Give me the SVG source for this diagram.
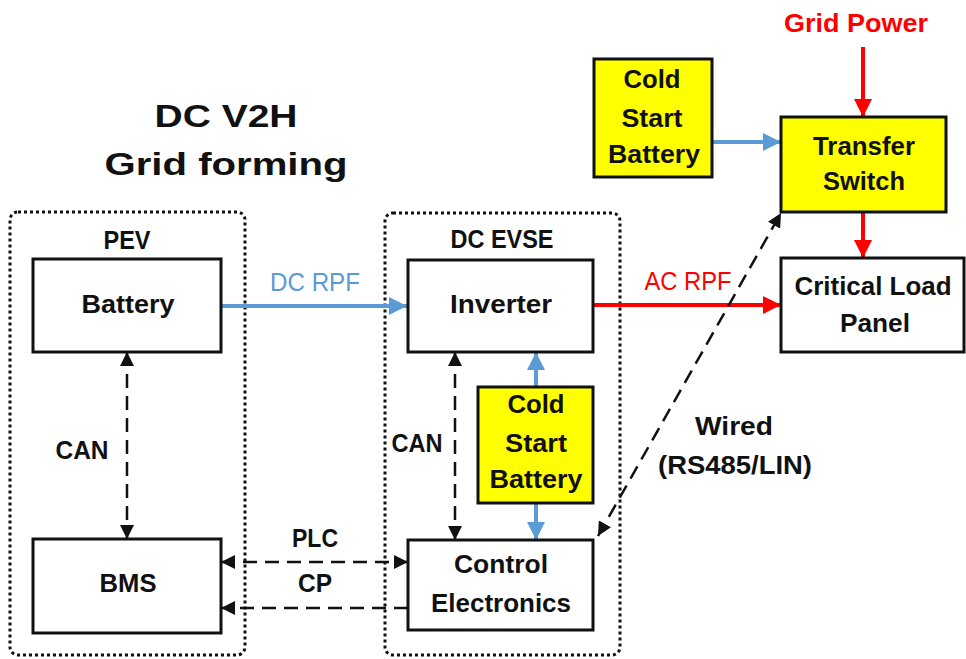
<svg xmlns="http://www.w3.org/2000/svg" width="966" height="659" viewBox="0 0 966 659">
<style>
text{font-family:"Liberation Sans",Arial,sans-serif;font-weight:bold;fill:#111;text-anchor:middle}
.lbl{font-size:25px}
.ttl{font-size:31px}
.box{fill:#fff;stroke:#111;stroke-width:3}
.ybox{fill:#ffff00;stroke:#111;stroke-width:3}
.grp{fill:none;stroke:#111;stroke-width:3;stroke-dasharray:3 3}
.blue{stroke:#5b9bd5;stroke-width:4;fill:none}
.red{stroke:#ff0000;stroke-width:4;fill:none}
.dash{stroke:#111;stroke-width:2.5;stroke-dasharray:14 8;fill:none}
.tb{fill:#5b9bd5;font-weight:normal}
.tr{fill:#ff0000;font-weight:normal}
</style>
<defs>
<marker id="ab" markerUnits="userSpaceOnUse" markerWidth="14" markerHeight="14" refX="14" refY="7" orient="auto-start-reverse"><path d="M0,0 L14,7 L0,14 z" fill="#111" stroke="none"/></marker>
<marker id="abl" markerUnits="userSpaceOnUse" markerWidth="18" markerHeight="18" refX="18" refY="9" orient="auto-start-reverse"><path d="M0,0 L18,9 L0,18 z" fill="#5b9bd5" stroke="none"/></marker>
<marker id="ar" markerUnits="userSpaceOnUse" markerWidth="18" markerHeight="18" refX="18" refY="9" orient="auto-start-reverse"><path d="M0,0 L18,9 L0,18 z" fill="#ff0000" stroke="none"/></marker>
</defs>
<rect width="966" height="659" fill="#fff"/>
<g id="title">
<text class="ttl" x="226" y="127" textLength="143" lengthAdjust="spacingAndGlyphs">DC V2H</text>
<text class="ttl" x="226" y="175" textLength="243" lengthAdjust="spacingAndGlyphs">Grid forming</text>
</g>
<g id="pev-group">
<rect class="grp" x="10" y="212" width="235" height="443" rx="8"/>
<text class="lbl" x="127" y="249" textLength="47" lengthAdjust="spacingAndGlyphs">PEV</text>
</g>
<g id="evse-group">
<rect class="grp" x="385" y="213" width="235" height="442" rx="8"/>
<text class="lbl" x="502" y="248" textLength="103" lengthAdjust="spacingAndGlyphs">DC EVSE</text>
</g>
<g id="connectors">
<line class="blue" x1="221" y1="306" x2="407" y2="306" marker-end="url(#abl)"/>
<line class="red" x1="593" y1="305" x2="781" y2="305" marker-end="url(#ar)"/>
<line class="red" x1="863" y1="47" x2="863" y2="117" marker-end="url(#ar)"/>
<line class="red" x1="863" y1="212" x2="863" y2="258" marker-end="url(#ar)"/>
<line class="blue" x1="712" y1="142" x2="781" y2="142" marker-end="url(#abl)"/>
<line class="blue" x1="536" y1="387" x2="536" y2="352" marker-end="url(#abl)"/>
<line class="blue" x1="536" y1="503" x2="536" y2="540" marker-end="url(#abl)"/>
<line class="dash" x1="127" y1="352" x2="127" y2="539" marker-start="url(#ab)" marker-end="url(#ab)"/>
<line class="dash" x1="455" y1="352" x2="455" y2="540" marker-start="url(#ab)" marker-end="url(#ab)"/>
<line class="dash" x1="221" y1="562" x2="408" y2="562" marker-start="url(#ab)" marker-end="url(#ab)"/>
<line class="dash" x1="408" y1="608" x2="221" y2="608" marker-end="url(#ab)"/>
<line class="dash" x1="598" y1="536" x2="781" y2="213" marker-start="url(#ab)" marker-end="url(#ab)"/>
<text class="lbl tb" x="315" y="291" textLength="90" lengthAdjust="spacingAndGlyphs">DC RPF</text>
<text class="lbl tr" x="688" y="290" textLength="87" lengthAdjust="spacingAndGlyphs">AC RPF</text>
<text class="lbl" x="82" y="459" textLength="53" lengthAdjust="spacingAndGlyphs">CAN</text>
<text class="lbl" x="417" y="452" textLength="51" lengthAdjust="spacingAndGlyphs">CAN</text>
<text class="lbl" x="315" y="547" textLength="46" lengthAdjust="spacingAndGlyphs">PLC</text>
<text class="lbl" x="315" y="592" textLength="34" lengthAdjust="spacingAndGlyphs">CP</text>
<text class="lbl" x="734" y="435" textLength="78" lengthAdjust="spacingAndGlyphs">Wired</text>
<text class="lbl" x="735" y="474" textLength="154" lengthAdjust="spacingAndGlyphs">(RS485/LIN)</text>
<text class="lbl" x="856" y="32" textLength="144" lengthAdjust="spacingAndGlyphs" style="fill:#ff0000">Grid Power</text>
</g>
<g id="battery">
<rect class="box" x="33" y="259" width="188" height="93"/>
<text class="lbl" x="128" y="313" textLength="93" lengthAdjust="spacingAndGlyphs">Battery</text>
</g>
<g id="bms">
<rect class="box" x="33" y="539" width="188" height="94"/>
<text class="lbl" x="128" y="592" textLength="57" lengthAdjust="spacingAndGlyphs">BMS</text>
</g>
<g id="inverter">
<rect class="box" x="408" y="260" width="185" height="92"/>
<text class="lbl" x="501" y="313" textLength="102" lengthAdjust="spacingAndGlyphs">Inverter</text>
</g>
<g id="cold-start-battery-evse">
<rect class="ybox" x="478" y="387" width="115" height="116"/>
<text class="lbl" x="536" y="413" textLength="57" lengthAdjust="spacingAndGlyphs">Cold</text>
<text class="lbl" x="536" y="452" textLength="62" lengthAdjust="spacingAndGlyphs">Start</text>
<text class="lbl" x="536" y="488" textLength="93" lengthAdjust="spacingAndGlyphs">Battery</text>
</g>
<g id="control-electronics">
<rect class="box" x="408" y="540" width="185" height="90"/>
<text class="lbl" x="501" y="573" textLength="94" lengthAdjust="spacingAndGlyphs">Control</text>
<text class="lbl" x="501" y="612" textLength="140" lengthAdjust="spacingAndGlyphs">Electronics</text>
</g>
<g id="cold-start-battery-grid">
<rect class="ybox" x="594" y="59" width="118" height="118"/>
<text class="lbl" x="652" y="88" textLength="57" lengthAdjust="spacingAndGlyphs">Cold</text>
<text class="lbl" x="652" y="127" textLength="61" lengthAdjust="spacingAndGlyphs">Start</text>
<text class="lbl" x="654" y="163" textLength="92" lengthAdjust="spacingAndGlyphs">Battery</text>
</g>
<g id="transfer-switch">
<rect class="ybox" x="781" y="117" width="165" height="95"/>
<text class="lbl" x="864" y="155" textLength="102" lengthAdjust="spacingAndGlyphs">Transfer</text>
<text class="lbl" x="864" y="190" textLength="82" lengthAdjust="spacingAndGlyphs">Switch</text>
</g>
<g id="critical-load-panel">
<rect class="box" x="781" y="258" width="183" height="94"/>
<text class="lbl" x="873" y="295" textLength="157" lengthAdjust="spacingAndGlyphs">Critical Load</text>
<text class="lbl" x="875" y="332" textLength="70" lengthAdjust="spacingAndGlyphs">Panel</text>
</g>
</svg>
